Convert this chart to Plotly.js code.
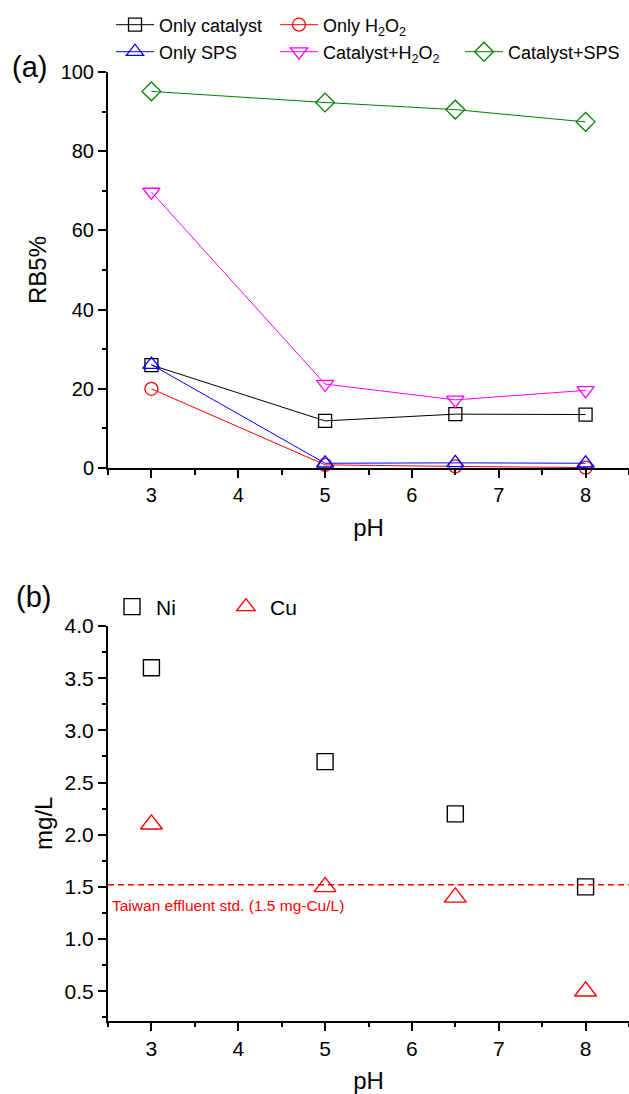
<!DOCTYPE html>
<html><head><meta charset="utf-8">
<script src="https://cdn.plot.ly/plotly-3.0.1.min.js"></script>
<style>html,body{margin:0;padding:0;background:#fff}#chart{width:629px;height:1094px}</style>
</head><body><div id="chart"></div>
<script>
// ---- data ----
const pH = [3, 5, 6.5, 8];
const onlyCatalyst = [26.0, 11.9, 13.6, 13.5];
const onlyH2O2 = [20.0, 0.8, 0.4, 0.1];
const onlySPS = [26.1, 1.2, 1.3, 1.2];
const catalystH2O2 = [69.7, 21.2, 17.2, 19.6];
const catalystSPS = [95.1, 92.3, 90.5, 87.4];
const niConc = [3.6, 2.7, 2.2, 1.5];
const cuConc = [2.1, 1.5, 1.4, 0.5];
const cuStandard = 1.52;
const seriesNamesA = ['Only catalyst', 'Only H<sub>2</sub>O<sub>2</sub>', 'Only SPS', 'Catalyst+H<sub>2</sub>O<sub>2</sub>', 'Catalyst+SPS'];
const seriesNamesB = ['Ni', 'Cu'];
const stdLabel = 'Taiwan effluent std. (1.5 mg-Cu/L)';

// ---- styling ----
const W = 629, H = 1094;
const FONT = 'Liberation Sans, Arial, sans-serif';
const colorsA = ['#000000', '#ff0000', '#0000ff', '#ff00ff', '#008000'];
const symbolsA = ['square-open', 'circle-open', 'triangle-up-open', 'triangle-down-open', 'diamond-open'];
const sizesA = [13, 13, 15, 15, 14.5];
const valuesA = [onlyCatalyst, onlyH2O2, onlySPS, catalystH2O2, catalystSPS];
const legendPos = [[111, 25], [275, 25], [111, 52], [275, 52], [460, 52]];

const traces = [];
valuesA.forEach((vals, i) => {
  traces.push({
    x: pH, y: vals, xaxis: 'x', yaxis: 'y', type: 'scatter', mode: 'lines+markers',
    name: seriesNamesA[i], cliponaxis: false,
    line: {color: colorsA[i], width: 1},
    marker: {symbol: symbolsA[i], size: sizesA[i], color: colorsA[i], line: {width: 1.3, color: colorsA[i]}},
    legend: i === 0 ? 'legend' : 'legend' + (i + 1)
  });
});
const valuesB = [niConc, cuConc];
const colorsB = ['#000000', '#ff0000'];
const symbolsB = ['square-open', 'triangle-up-open'];
const sizesB = [16, 19];
valuesB.forEach((vals, i) => {
  traces.push({
    x: pH, y: vals, xaxis: 'x2', yaxis: 'y2', type: 'scatter', mode: 'markers',
    name: seriesNamesB[i], cliponaxis: false,
    marker: {symbol: symbolsB[i], size: sizesB[i], color: colorsB[i], line: {width: 1.4, color: colorsB[i]}},
    legend: 'legend' + (6 + i)
  });
});

const xd = [108 / W, 1];
const ydA = [1 - 468 / H, 1 - 72 / H];
const ydB = [1 - 1020.5 / H, 1 - 626 / H];

function baseAxis(extra) {
  return Object.assign({
    showgrid: false, zeroline: false, showline: true, linecolor: '#000', linewidth: 2,
    ticks: 'outside', ticklen: 8, tickwidth: 2, tickcolor: '#000',
    tickfont: {family: FONT, size: 20, color: '#000'}
  }, extra);
}
const minorOut = (d) => ({dtick: d, ticks: 'outside', ticklen: 4.5, tickwidth: 2, tickcolor: '#000'});
const minorIn = (d) => ({dtick: d, ticks: 'inside', ticklen: 4.5, tickwidth: 2, tickcolor: '#000'});

const layout = {
  width: W, height: H, margin: {l: 0, r: 0, t: 0, b: 0},
  paper_bgcolor: '#fff', plot_bgcolor: 'rgba(0,0,0,0)',
  font: {family: FONT, color: '#000'},
  showlegend: true,
  xaxis: baseAxis({domain: xd, anchor: 'y', range: [2.5, 8.5], tick0: 0, dtick: 1,
    minor: minorOut(0.5),
    title: {text: 'pH', font: {family: FONT, size: 24}, standoff: 14}}),
  yaxis: baseAxis({domain: ydA, anchor: 'x', range: [0, 100], tick0: 0, dtick: 20,
    minor: minorOut(10),
    title: {text: 'RB5%', font: {family: FONT, size: 24}, standoff: 7}}),
  xaxis3: baseAxis({overlaying: 'x', anchor: 'y', side: 'top', range: [2.5, 8.5], tick0: 0, dtick: 1,
    ticks: 'inside', showticklabels: false, minor: minorIn(0.5)}),
  xaxis2: baseAxis({domain: xd, anchor: 'y2', range: [2.5, 8.5], tick0: 0, dtick: 1,
    tickfont: {family: FONT, size: 21, color: '#000'},
    minor: minorOut(0.5),
    title: {text: 'pH', font: {family: FONT, size: 24}, standoff: 14}}),
  yaxis2: baseAxis({domain: ydB, anchor: 'x2', range: [0.22, 4.0], tick0: 0, dtick: 0.5, tickformat: '.1f',
    tickfont: {family: FONT, size: 21, color: '#000'},
    minor: minorOut(0.25),
    title: {text: 'mg/L', font: {family: FONT, size: 24}, standoff: 5}}),
  xaxis4: baseAxis({overlaying: 'x2', anchor: 'y2', side: 'top', range: [2.5, 8.5], tick0: 0, dtick: 1,
    ticks: 'inside', showticklabels: false, minor: minorIn(0.5)}),
  yaxis4: baseAxis({overlaying: 'y2', anchor: 'x2', side: 'right', range: [0.22, 4.0], tick0: 0, dtick: 0.5,
    ticks: 'inside', showticklabels: false, showline: false, minor: minorIn(0.25)}),
  shapes: [{type: 'line', xref: 'x2 domain', yref: 'y2', x0: 0, x1: 1, y0: cuStandard, y1: cuStandard,
    line: {color: '#ff0000', width: 1.5, dash: '6px,4px'}}],
  annotations: [
    {text: '(a)', xref: 'paper', yref: 'paper', x: 10 / W, y: 1 - 67 / H, xanchor: 'left', yanchor: 'middle',
      showarrow: false, font: {family: FONT, size: 29, color: '#000'}},
    {text: '(b)', xref: 'paper', yref: 'paper', x: 14 / W, y: 1 - 597 / H, xanchor: 'left', yanchor: 'middle',
      showarrow: false, font: {family: FONT, size: 29, color: '#000'}},
    {text: stdLabel, xref: 'x2 domain', yref: 'y2', x: 0, xshift: 2, y: 1.325, xanchor: 'left', yanchor: 'middle',
      showarrow: false, font: {family: FONT, size: 15.5, color: '#ff0000'}}
  ]
};

function legendAt(px, py, size) {
  return {x: px / W, y: 1 - py / H, xanchor: 'left', yanchor: 'middle', orientation: 'h',
    bgcolor: 'rgba(0,0,0,0)', borderwidth: 0, itemwidth: 38, tracegroupgap: 0,
    font: {family: FONT, size: size, color: '#000'}};
}
legendPos.forEach((p, i) => {
  layout[i === 0 ? 'legend' : 'legend' + (i + 1)] = legendAt(p[0], p[1], 18);
});
layout.legend6 = legendAt(108, 607, 21);
layout.legend7 = legendAt(222, 607, 21);

Plotly.newPlot('chart', traces, layout, {displayModeBar: false, staticPlot: true});
</script>
</body></html>
